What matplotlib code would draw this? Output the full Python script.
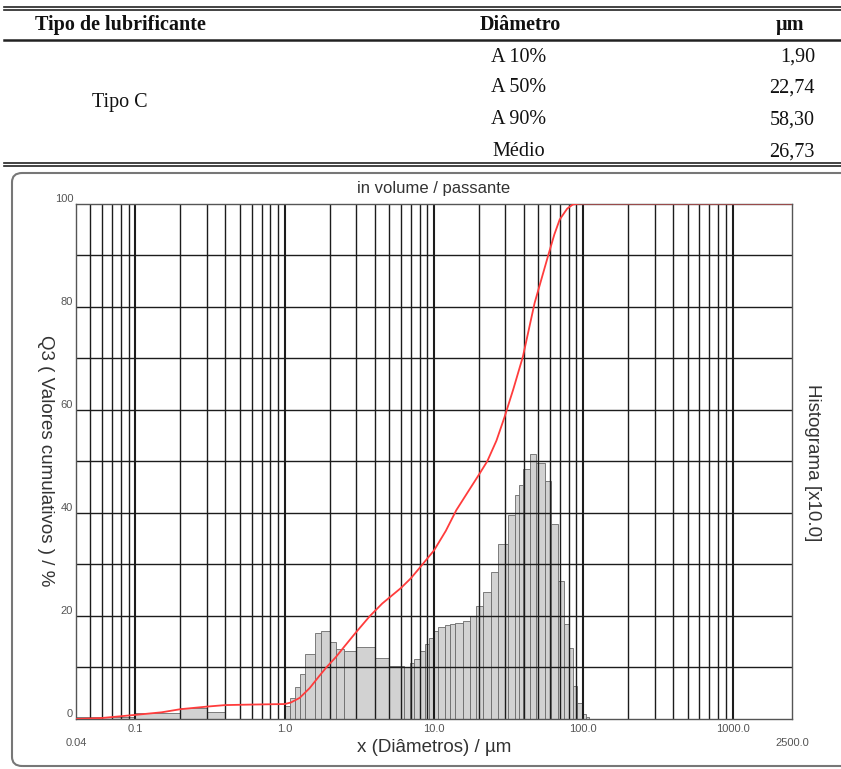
import numpy as np
import matplotlib
matplotlib.use("Agg")
import matplotlib.pyplot as plt
from matplotlib.patches import FancyBboxPatch
from matplotlib.lines import Line2D

# table above the chart
table_header = ["Tipo de lubrificante", "Diâmetro", "µm"]
sample_name = "Tipo C"
diameter_labels = ["A 10%", "A 50%", "A 90%", "Médio"]
diameter_values = ["1,90", "22,74", "58,30", "26,73"]

bin_edges = [0.04, 0.1, 0.2, 0.3, 0.4, 1.0, 1.08, 1.17, 1.27, 1.36, 1.6, 1.76, 2.0,
             2.2, 2.5, 3.0, 4.0, 5.0, 6.3, 6.9, 7.4, 8.0, 8.7, 9.2, 9.9, 10.7,
             11.8, 12.8, 13.8, 15.6, 17.3, 19.2, 21.3, 24.2, 26.9, 31.3, 34.8,
             37.2, 39.5, 43.7, 48.5, 55.0, 61.0, 68.0, 74.5, 80.8, 85.9, 90.3,
             97.5, 105.0, 110.0]
hist_heights = [0.3, 1.2, 2.2, 1.4, 0.0, 2.5, 4.0, 6.2, 8.7, 12.6, 16.6, 17.0,
                15.0, 13.6, 13.1, 13.9, 11.9, 10.2, 10.0, 10.8, 11.7, 13.2, 14.6,
                15.8, 17.0, 17.8, 18.2, 18.5, 18.7, 19.1, 20.0, 22.0, 24.7, 28.6,
                34.0, 39.5, 43.4, 45.3, 48.4, 51.5, 49.7, 46.2, 37.9, 26.7, 18.5,
                13.7, 6.4, 3.2, 0.9, 0.3]

# cumulative passing curve Q3
cum_x = [0.04, 0.06, 0.1, 0.15, 0.2, 0.3, 0.4, 0.6, 1.0, 1.1, 1.26, 1.47, 1.7,
         1.9, 2.2, 2.5, 3.0, 3.7, 4.5, 6.0, 7.0, 8.0, 10.0, 12.0, 14.1, 17.0,
         20.2, 22.74, 26.2, 29.7, 34.0, 39.4, 47.2, 58.3, 64.0, 69.5, 78.0,
         85.0, 95.0, 2500.0]
cum_y = [0.0, 0.2, 0.8, 1.3, 1.9, 2.4, 2.7, 2.8, 2.9, 3.2, 4.1, 6.0, 8.3,
         10.0, 12.0, 14.0, 16.8, 19.9, 22.4, 25.4, 27.3, 29.3, 32.7, 36.5,
         40.5, 44.2, 47.6, 50.0, 54.0, 58.6, 64.0, 70.3, 80.7, 90.0, 94.0,
         96.9, 99.0, 99.8, 100.0, 100.0]

y_ticks = [0, 20, 40, 60, 80, 100]
x_tick_values = [0.1, 1.0, 10.0, 100.0, 1000.0]
x_tick_labels = ["0.1", "1.0", "10.0", "100.0", "1000.0"]
x_limits = [0.04, 2500.0]
x_limit_labels = ["0.04", "2500.0"]

W, H = 841, 769
fig = plt.figure(figsize=(W / 100, H / 100), dpi=100)


def fx(px):
    return px / W


def fy(py):
    return 1 - py / H


serif = "Liberation Serif"
sans = "Liberation Sans"

# ---- table ----
for y0 in (7, 10):
    fig.add_artist(Line2D([fx(4), 1], [fy(y0), fy(y0)], color="#222", lw=1.2))
fig.add_artist(Line2D([fx(4), 1], [fy(40), fy(40)], color="#222", lw=1.8))
for y0 in (163, 166):
    fig.add_artist(Line2D([fx(4), 1], [fy(y0), fy(y0)], color="#222", lw=1.2))

tsize = 14.5
fig.text(fx(120), fy(25), table_header[0], family=serif, weight="bold",
         fontsize=tsize, ha="center", va="center", color="#111")
fig.text(fx(520), fy(25), table_header[1], family=serif, weight="bold",
         fontsize=tsize, ha="center", va="center", color="#111")
fig.text(fx(790), fy(25), table_header[2], family=serif, weight="bold",
         fontsize=tsize, ha="center", va="center", color="#111")
fig.text(fx(120), fy(103), sample_name, family=serif, fontsize=tsize,
         ha="center", va="center", color="#111")
row_y = [57, 88, 120, 152]
for yy, lab, val in zip(row_y, diameter_labels, diameter_values):
    fig.text(fx(519), fy(yy), lab, family=serif, fontsize=tsize,
             ha="center", va="center", color="#111")
    fig.text(fx(815), fy(yy), val, family=serif, fontsize=tsize,
             ha="right", va="center", color="#111")

# ---- outer rounded frame ----
box = FancyBboxPatch((fx(12), fy(766)), fx(870) - fx(12), fy(173) - fy(766),
                     boxstyle="round,pad=0,rounding_size=0.012",
                     transform=fig.transFigure, fill=False,
                     edgecolor="#777", lw=1.5)
fig.add_artist(box)

# ---- chart ----
ax = fig.add_axes([fx(76), fy(719), fx(792) - fx(76), fy(203.5) - fy(719)])
ax.set_xscale("log")
ax.set_xlim(x_limits)
ax.set_ylim(0, 100)

lefts = np.array(bin_edges[:-1])
widths = np.array(bin_edges[1:]) - lefts
ax.bar(lefts, hist_heights, width=widths, align="edge", color="#d2d2d2",
       edgecolor="#6a6a6a", lw=0.6, zorder=1)

grid_x = [m * 10.0 ** e for e in range(-2, 4) for m in range(1, 10)]
grid_x = [g for g in grid_x if 0.045 < g < 1001]
for g in grid_x:
    decade = abs(np.log10(g) - round(np.log10(g))) < 1e-6
    ax.axvline(g, color="#1c1c1c", lw=1.5 if decade else 1.0, zorder=2)
for v in range(10, 100, 10):
    ax.axhline(v, color="#1c1c1c", lw=1.0, zorder=2)

ax.plot(cum_x, cum_y, color="#ff3c3c", lw=1.3, zorder=3)

ax.set_xticks([])
ax.set_yticks([])
ax.minorticks_off()
for s in ax.spines.values():
    s.set_color("#555")
    s.set_linewidth(1.0)

tick_color = "#555"
tick_size = 8
for v in y_ticks:
    ax.text(-0.004, v, str(v), transform=ax.get_yaxis_transform(),
            ha="right", va="bottom", fontsize=tick_size, family=sans, color=tick_color)
for v, lab in zip(x_tick_values, x_tick_labels):
    ax.text(v, -0.01, lab, transform=ax.get_xaxis_transform(),
            ha="center", va="top", fontsize=tick_size, family=sans, color=tick_color)
for v, lab in zip(x_limits, x_limit_labels):
    ax.text(v, -0.037, lab, transform=ax.get_xaxis_transform(),
            ha="center", va="top", fontsize=tick_size, family=sans, color=tick_color)

fig.text(fx(434), fy(188), "in volume / passante", family=sans, fontsize=12,
         ha="center", va="center", color="#333")
fig.text(fx(434), fy(748), "x (Diâmetros) / µm", family=sans, fontsize=13.5,
         ha="center", va="center", color="#333")
fig.text(fx(45), fy(461), "Q3 ( Valores cumulativos ) / %", family=sans,
         fontsize=13.5, ha="center", va="center", rotation=270, color="#333")
fig.text(fx(813), fy(463), "Histograma [x10.0]", family=sans, fontsize=13.5,
         ha="center", va="center", rotation=270, color="#333")

fig.savefig("out.png", dpi=100)
